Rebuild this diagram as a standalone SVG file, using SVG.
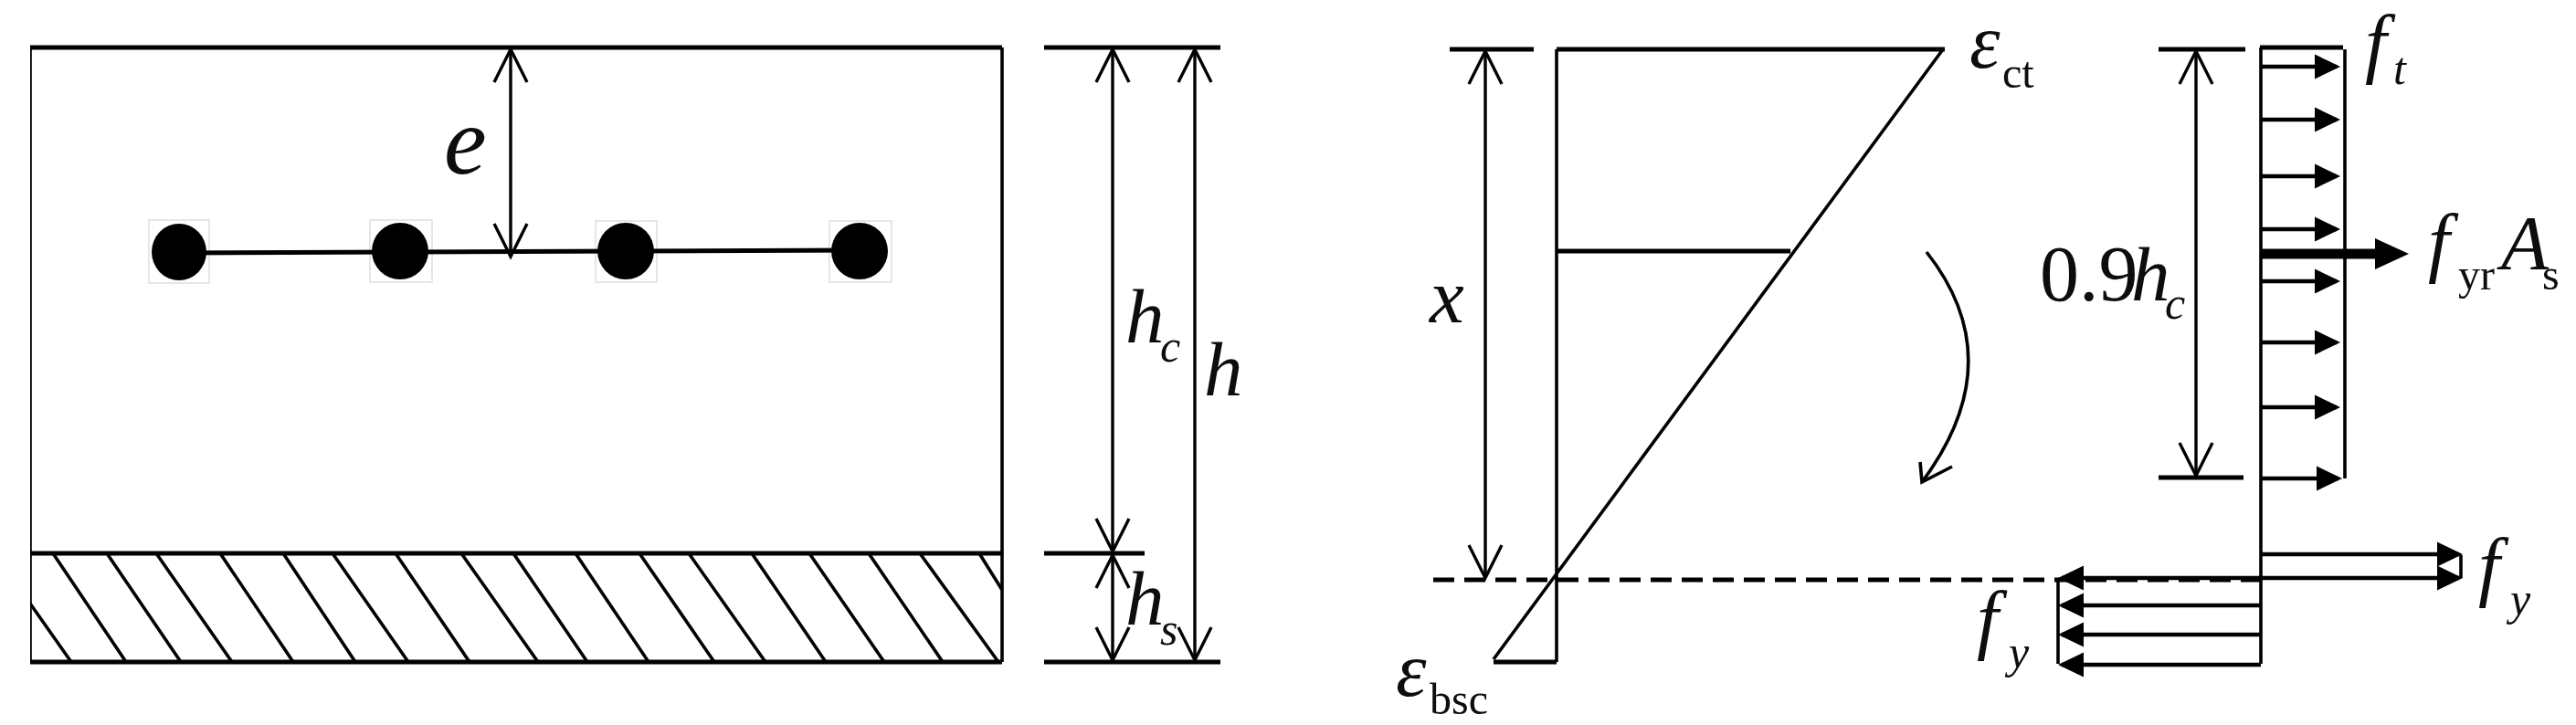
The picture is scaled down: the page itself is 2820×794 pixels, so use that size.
<svg xmlns="http://www.w3.org/2000/svg" width="2820" height="794" viewBox="0 0 2820 794">
<style>
.l{stroke:#000;stroke-width:3.6;fill:none}
.b{stroke:#000;stroke-width:5;fill:none}
.a{stroke:#000;stroke-width:4.4;fill:none;marker-end:url(#solid)}
.d{stroke:#000;stroke-width:3.4;fill:none;marker-start:url(#open);marker-end:url(#open)}
.box{fill:#fff;stroke:#e6e6e6;stroke-width:2}
text{font-family:"Liberation Serif","Times New Roman",serif;fill:#111}
.i{font-style:italic;font-size:85px}
.s{font-style:italic;font-size:50px}
.r{font-style:normal;font-size:48px}
</style>
<defs>
<marker id="open" viewBox="-40 -22 44 44" refX="0" refY="0" markerWidth="44" markerHeight="44" markerUnits="userSpaceOnUse" orient="auto-start-reverse"><path d="M-36,-18L0,0L-36,18" fill="none" stroke="#000" stroke-width="3.400"/></marker>
<marker id="solid" viewBox="-30 -16 36 32" refX="0" refY="0" markerWidth="36" markerHeight="32" markerUnits="userSpaceOnUse" orient="auto"><path d="M-24,-13.500L4,0L-24,13.500Z" fill="#000"/></marker>
<filter id="soft" x="0" y="0" width="100%" height="100%"><feGaussianBlur stdDeviation="0.6"/></filter>
</defs>
<rect width="2820" height="794" fill="#fff"/>
<g filter="url(#soft)">
<g id="section">
<path class="b" d="M33,52H1097M33,606H1097M33,725H1097"/>
<path class="l" d="M33,52V725M1097,52V725"/>
<path class="l" d="M58,606L138,725M117,606L198,725M171,606L254,725M241,606L321,725M310,606L389,725M364,606L447,725M433,606L514,725M505,606L589,725M562,606L643,725M630,606L710,725M700,606L782,725M754,606L838,725M823,606L904,725M886,606L968,725M951,606L1032,725M1007,606L1093,725M1072,606L1097,646M33,661L78,725"/>
</g>
<g id="bars">
<rect class="box" x="163" y="241" width="66" height="69"/>
<rect class="box" x="405" y="241" width="68" height="68"/>
<rect class="box" x="652" y="242" width="67" height="67"/>
<rect class="box" x="908" y="242" width="68" height="67"/>
<path class="b" d="M196,277L438,276L685,275L941,274"/>
<ellipse cx="196" cy="276" rx="30" ry="31"/>
<ellipse cx="438" cy="275" rx="31" ry="31"/>
<ellipse cx="685" cy="275" rx="31" ry="31"/>
<ellipse cx="941" cy="275" rx="31" ry="31"/>
</g>
<g id="strain">
<path class="b" d="M1704,54H2129M1704,275H1960M1635,725H1704"/>
<path class="l" d="M1704,54V725M2127,54L1635,722"/>
</g>
<g id="stress">
<path class="l" d="M2475,52V727M2567,54V524M2694,608V633M2253,633V727"/>
<path class="b" d="M2474,52H2565"/>
</g>
<g id="connectors">
<path class="d" d="M559,54V281"/>
<path class="d" d="M1218,54V604"/>
<path class="d" d="M1218,608V723"/>
<path class="d" d="M1308,54V723"/>
<path class="b" d="M1143,52H1336M1143,606H1253M1143,725H1336"/>
<path class="b" d="M1587,54H1679M2363,54H2458M2363,523H2456"/>
<path class="d" d="M1626,56V633"/>
<path class="d" d="M2404,56V521"/>
<path class="b" stroke-dasharray="23 11" d="M1569,635H2474"/>
<path class="l" d="M2109,276Q2203,395 2104,528M2102,506L2104,528L2137,511"/>
<path class="a" d="M2476,73H2558"/>
<path class="a" d="M2476,131H2558"/>
<path class="a" d="M2476,193H2558"/>
<path class="a" d="M2476,251H2558"/>
<path class="a" d="M2476,308H2558"/>
<path class="a" d="M2476,375H2558"/>
<path class="a" d="M2476,446H2558"/>
<path class="a" d="M2476,524H2560"/>
<path d="M2474,278H2606" stroke="#000" stroke-width="11" fill="none"/>
<path d="M2600,261L2637,278L2600,295Z" fill="#000"/>
<path class="a" d="M2476,607H2692"/>
<path class="a" d="M2476,633H2692"/>
<path class="a" d="M2475,633H2257"/>
<path class="a" d="M2475,663H2257"/>
<path class="a" d="M2475,695H2257"/>
<path class="a" d="M2475,728H2257"/>
</g>
<g id="labels">
<text class="i" x="486" y="190" style="font-size:105px">e</text>
<text class="i" x="1232" y="375">h<tspan class="s" x="1270" y="396">c</tspan></text>
<text class="i" x="1318" y="433">h</text>
<text class="i" x="1232" y="684">h<tspan class="s" x="1270" y="706">s</tspan></text>
<text class="i" x="1565" y="353">x</text>
<text class="i" x="2156" y="74">ε<tspan class="r" x="2192" y="96">ct</tspan></text>
<text class="i" x="1528" y="762">ε<tspan class="r" x="1565" y="782">bsc</tspan></text>
<text x="2233" y="329" style="font-size:86px">0.9<tspan class="i" x="2333">h</tspan><tspan class="s" x="2370" y="349">c</tspan></text>
<text class="i" x="2589" y="75">f<tspan class="s" x="2620" y="92">t</tspan></text>
<text class="i" x="2658" y="293">f<tspan class="r" x="2691" y="317">yr</tspan><tspan x="2738" y="295">A</tspan><tspan class="r" x="2783" y="317">s</tspan></text>
<text class="i" x="2713" y="648">f<tspan class="s" x="2748" y="673">y</tspan></text>
<text class="i" x="2164" y="706">f<tspan class="s" x="2199" y="731">y</tspan></text>
</g>
</g>
</svg>
